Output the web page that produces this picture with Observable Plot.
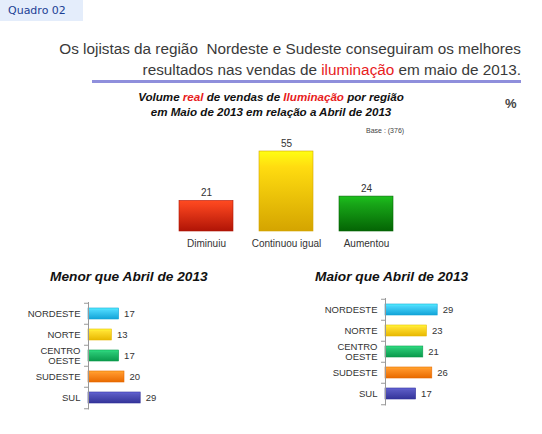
<!DOCTYPE html>
<html><head><meta charset="utf-8">
<script src="https://cdn.jsdelivr.net/npm/d3@7"></script>
<script src="https://cdn.jsdelivr.net/npm/@observablehq/plot@0.6"></script>
<style>
body{margin:0;background:#fff;}
#root{position:relative;width:542px;height:434px;overflow:hidden;font-family:"Liberation Sans",Arial,sans-serif;color:#333;}
.abs{position:absolute;white-space:nowrap;}
.red{color:#e8201c;}
</style></head><body><div id="root">
<div class="abs" style="left:0;top:0;width:75px;height:21px;padding-left:8px;background:#e4edfb;color:#1c3f94;font:11px 'DejaVu Sans',sans-serif;line-height:21px;">Quadro 02</div>
<div class="abs" style="right:21px;top:38px;text-align:right;font-size:15.3px;line-height:21px;color:#3a3a3a;">Os lojistas da região&nbsp; Nordeste e Sudeste conseguiram os melhores<br>resultados nas vendas de <span class="red">iluminação</span> em maio de 2013.</div>
<div class="abs" style="left:92px;top:80px;width:429px;height:3px;background:#8f8fdc;"></div>
<div class="abs" style="left:0;top:89px;width:542px;text-align:center;font-weight:bold;font-style:italic;font-size:11.6px;line-height:15px;color:#111;">Volume <span class="red">real</span> de vendas de <span class="red">Iluminação</span> por região<br>em Maio de 2013 em relação a Abril de 2013</div>
<div class="abs" style="left:505px;top:96px;font-size:13px;font-weight:bold;color:#444;">%</div>
<div class="abs" style="left:366px;top:127px;font-size:7px;color:#444;">Base : (376)</div>
<div class="abs" style="left:50px;top:269px;font-weight:bold;font-style:italic;font-size:13.7px;color:#111;">Menor que Abril de 2013</div>
<div class="abs" style="left:315px;top:269px;font-weight:bold;font-style:italic;font-size:13.7px;color:#111;">Maior que Abril de 2013</div>
<div id="v" class="abs" style="left:153px;top:131px;"></div>
<div id="h1" class="abs" style="left:0px;top:292px;"></div>
<div id="h2" class="abs" style="left:297px;top:288px;"></div>
</div>
<script>
const categorias = ["Diminuiu", "Continuou igual", "Aumentou"];
const volume = [21, 55, 24];
const regioes = ["NORDESTE", "NORTE", "CENTRO OESTE", "SUDESTE", "SUL"];
const menor = [17, 13, 17, 20, 29];
const maior = [29, 23, 21, 26, 17];

const coresV = [["#f2401c", "#b01406"], ["#ffdc10", "#d4a400"], ["#18a818", "#046404"]];
const coresH = [["#48d4fa", "#12a4d8"], ["#ffe030", "#e8b800"], ["#28c874", "#0a9a4c"], ["#ff9428", "#e86a00"], ["#5858c0", "#34349a"]];

function addDefs(svg, prefix, cores) {
  const defs = d3.select(svg).insert("defs", ":first-child");
  cores.forEach((c, i) => {
    const g = defs.append("linearGradient").attr("id", prefix + i)
      .attr("x1", 0).attr("y1", 0).attr("x2", 0).attr("y2", 1);
    g.append("stop").attr("offset", "0%").attr("stop-color", d3.color(c[0]).brighter(0.4));
    g.append("stop").attr("offset", "20%").attr("stop-color", c[0]);
    g.append("stop").attr("offset", "100%").attr("stop-color", c[1]);
  });
}

const dv = categorias.map((c, i) => ({cat: c, v: volume[i], i}));
const sv = Plot.plot({
  width: 266, height: 120, marginTop: 20, marginBottom: 20, marginLeft: 0, marginRight: 0,
  style: {fontFamily: "'Liberation Sans', Arial, sans-serif", color: "#333", overflow: "visible"},
  x: {domain: categorias, padding: 0.325, axis: null, label: null},
  y: {domain: [0, 55], axis: null, label: null},
  marks: [
    Plot.barY(dv, {x: "cat", y: "v", fill: d => `url(#gv${d.i})`, stroke: d => coresV[d.i][1], strokeWidth: 0.6}),
    Plot.text(dv, {x: "cat", y: "v", text: d => String(d.v), dy: -8, fontSize: 10, fill: "#333"}),
    Plot.axisX({tickSize: 0, tickPadding: 8, fontSize: 10, fill: "#333", label: null})
  ]
});
addDefs(sv, "gv", coresV);
document.getElementById("v").appendChild(sv);

function horiz(valores, prefix) {
  const d = regioes.map((r, i) => ({r, v: valores[i], i}));
  const svg = Plot.plot({
    width: 188, height: 128, marginLeft: 88, marginRight: 10, marginTop: 10, marginBottom: 10.5,
    style: {fontFamily: "'Liberation Sans', Arial, sans-serif", color: "#333", overflow: "visible"},
    x: {domain: [0, 50], axis: null, label: null},
    y: {domain: regioes, paddingInner: 0.48, paddingOuter: 0.24, axis: null, label: null},
    marks: [
      Plot.barX(d, {y: "r", x: "v", fill: e => `url(#${prefix}${e.i})`, stroke: e => coresH[e.i][1], strokeWidth: 0.6}),
      Plot.text(d, {y: "r", x: "v", text: e => String(e.v), dx: 5, textAnchor: "start", fontSize: 9.5, fill: "#333"}),
      Plot.ruleX([0], {stroke: "#999", strokeWidth: 1}),
      Plot.ruleY(regioes, {y: e => e, x1: -2.2, x2: 0, dy: -10.75, stroke: "#999"}),
      Plot.ruleY([regioes[regioes.length - 1]], {y: e => e, x1: -2.2, x2: 0, dy: 10.75, stroke: "#999"}),
      Plot.axisY({tickSize: 0, tickPadding: 8, fontSize: 9.5, fill: "#333", lineHeight: 1.05, label: null, tickFormat: t => t.replace(" ", "\n")})
    ]
  });
  addDefs(svg, prefix, coresH);
  return svg;
}
document.getElementById("h1").appendChild(horiz(menor, "ga"));
document.getElementById("h2").appendChild(horiz(maior, "gb"));
</script>
</body></html>
